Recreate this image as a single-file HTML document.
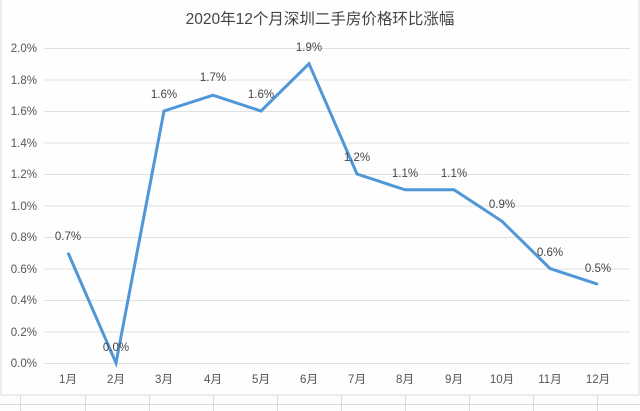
<!DOCTYPE html>
<html><head><meta charset="utf-8"><style>
body{margin:0;background:#fff;}
svg{display:block;font-family:"Liberation Sans","Noto Sans CJK SC",sans-serif;}
</style></head><body>
<svg width="640" height="411" viewBox="0 0 640 411">
<rect x="0" y="0" width="640" height="411" fill="#fdfdfe"/>
<rect x="1" y="-1" width="638" height="396" fill="#fefeff" stroke="#dcdcdc"/>
<g stroke="#dcdcdc" stroke-width="1">
<line x1="0" y1="404.5" x2="640" y2="404.5"/>
<line x1="20.5" y1="395" x2="20.5" y2="411"/><line x1="85.5" y1="395" x2="85.5" y2="411"/>
<line x1="149.5" y1="395" x2="149.5" y2="411"/><line x1="213.5" y1="395" x2="213.5" y2="411"/>
<line x1="277.5" y1="395" x2="277.5" y2="411"/><line x1="341.5" y1="395" x2="341.5" y2="411"/>
<line x1="405.5" y1="395" x2="405.5" y2="411"/><line x1="469.5" y1="395" x2="469.5" y2="411"/>
<line x1="533.5" y1="395" x2="533.5" y2="411"/><line x1="597.5" y1="395" x2="597.5" y2="411"/>
</g>
<text x="320" y="24" text-anchor="middle" font-size="15.5" fill="#444">2020年12个月深圳二手房价格环比涨幅</text>
<g stroke="#e0e0e0" stroke-width="1">
<line x1="44" y1="48.5" x2="630" y2="48.5"/><line x1="44" y1="80" x2="630" y2="80"/>
<line x1="44" y1="111.5" x2="630" y2="111.5"/><line x1="44" y1="143" x2="630" y2="143"/>
<line x1="44" y1="174.5" x2="630" y2="174.5"/><line x1="44" y1="206" x2="630" y2="206"/>
<line x1="44" y1="237.5" x2="630" y2="237.5"/><line x1="44" y1="269" x2="630" y2="269"/>
<line x1="44" y1="300.5" x2="630" y2="300.5"/><line x1="44" y1="332" x2="630" y2="332"/>
<line x1="44" y1="363.5" x2="630" y2="363.5"/>
</g>
<g font-size="11.5" fill="#555" text-anchor="end">
<text x="37" y="52">2.0%</text><text x="37" y="84">1.8%</text><text x="37" y="115">1.6%</text>
<text x="37" y="147">1.4%</text><text x="37" y="178">1.2%</text><text x="37" y="210">1.0%</text>
<text x="37" y="241">0.8%</text><text x="37" y="273">0.6%</text><text x="37" y="304">0.4%</text>
<text x="37" y="336">0.2%</text><text x="37" y="367">0.0%</text>
</g>
<g font-size="11.5" fill="#555" text-anchor="middle">
<text x="68" y="383">1月</text><text x="116" y="383">2月</text><text x="164" y="383">3月</text>
<text x="213" y="383">4月</text><text x="261" y="383">5月</text><text x="309" y="383">6月</text>
<text x="357" y="383">7月</text><text x="405" y="383">8月</text><text x="454" y="383">9月</text>
<text x="502" y="383">10月</text><text x="550" y="383">11月</text><text x="598" y="383">12月</text>
</g>
<polyline fill="none" stroke="#4f97d6" stroke-width="3" stroke-linejoin="miter"
points="68,252.7 116,363 164,111 213,95.2 261,111 309,63.7 357,174 405,189.8 454,189.8 502,221.3 550,268.5 598,284.3"/>
<g font-size="11.5" fill="#444" text-anchor="middle">
<text x="68" y="240">0.7%</text><text x="116" y="351">0.0%</text><text x="164" y="98">1.6%</text>
<text x="213" y="81">1.7%</text><text x="261" y="98">1.6%</text><text x="309" y="51">1.9%</text>
<text x="357" y="161">1.2%</text><text x="405" y="177">1.1%</text><text x="454" y="177">1.1%</text>
<text x="502" y="208">0.9%</text><text x="550" y="256">0.6%</text><text x="598" y="272">0.5%</text>
</g>
</svg>
</body></html>
